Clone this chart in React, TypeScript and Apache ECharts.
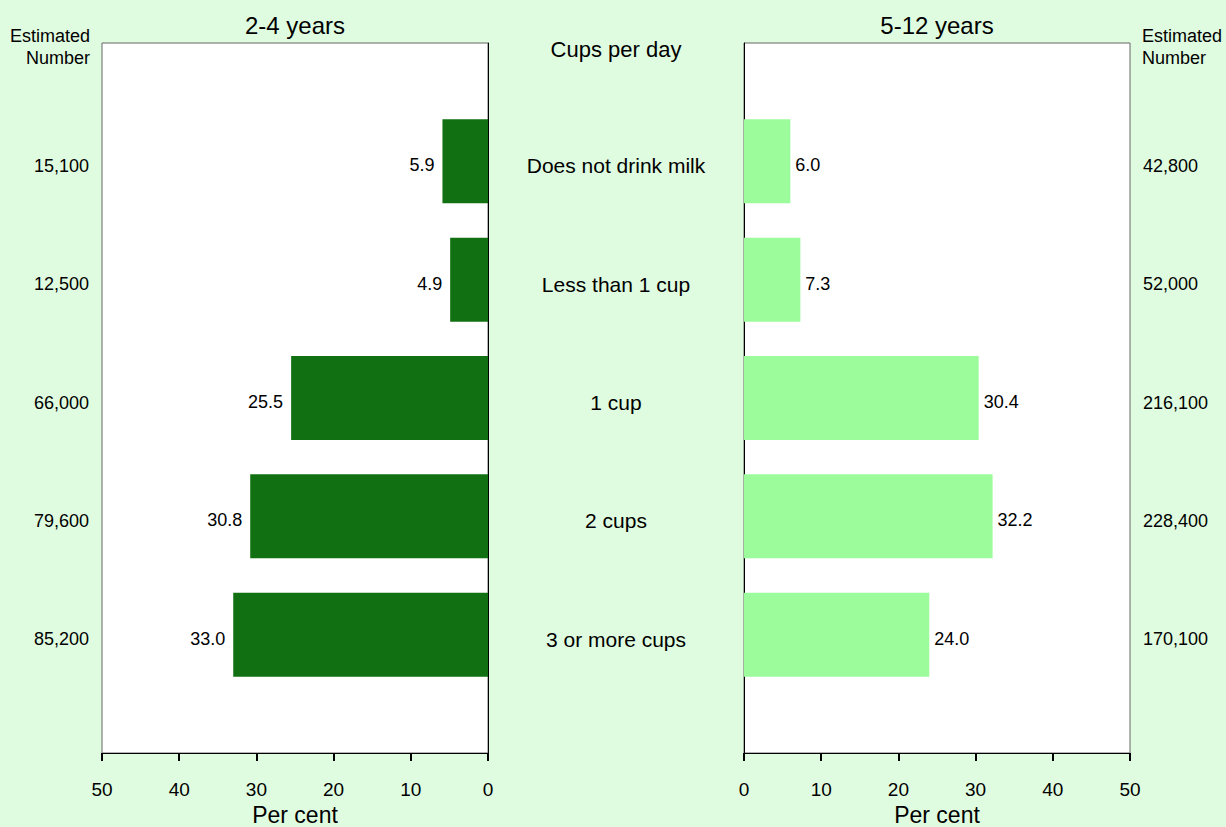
import React, { useEffect, useRef } from "react";
import * as echarts from "echarts";

const categories = ["Does not drink milk", "Less than 1 cup", "1 cup", "2 cups", "3 or more cups"];
const young = [5.9, 4.9, 25.5, 30.8, 33.0];
const older = [6.0, 7.3, 30.4, 32.2, 24.0];
const youngNumbers = ["15,100", "12,500", "66,000", "79,600", "85,200"];
const olderNumbers = ["42,800", "52,000", "216,100", "228,400", "170,100"];
const ticks = [0, 10, 20, 30, 40, 50];

const FONT = "Liberation Sans, Arial, sans-serif";

export default function App() {
  const ref = useRef<HTMLDivElement>(null);
  useEffect(() => {
    if (!ref.current) return;
    const chart = echarts.init(ref.current, null, { renderer: "svg" });
    const pad = (arr: any[]) => ["", ...arr, ""];
    const padV = (arr: number[]) => [null, ...arr, null];
    const xCommon = (inverse: boolean, gi: number) => ({
      type: "value",
      gridIndex: gi,
      min: ticks[0],
      max: ticks[ticks.length - 1],
      interval: 10,
      inverse,
      splitLine: { show: false },
      axisLine: { show: true, lineStyle: { color: "#000", width: 1 } },
      axisTick: { show: true, length: 8, lineStyle: { color: "#000", width: 2 } },
      axisLabel: { color: "#000", fontSize: 19, fontFamily: FONT, margin: 27 },
      name: "Per cent",
      nameLocation: "middle",
      nameGap: 50,
      nameTextStyle: { color: "#000", fontSize: 23, fontFamily: FONT, lineHeight: 22 },
    });
    const yCat = (gi: number, data: string[], position: string, extra: any) => ({
      type: "category",
      gridIndex: gi,
      data,
      boundaryGap: false,
      inverse: true,
      position,
      axisTick: { show: false },
      splitLine: { show: false },
      ...extra,
    });
    const fmt = (p: any) => (p.value == null ? "" : Number(p.value).toFixed(1));
    const gridBase = { top: 43, bottom: 74, show: true, backgroundColor: "#fff", borderColor: "#666", borderWidth: 1, containLabel: false, outerBoundsMode: "none" };
    chart.setOption({
      animation: false,
      backgroundColor: "#e0fce0",
      textStyle: { fontFamily: FONT },
      grid: [
        { ...gridBase, left: 102, right: 738 },
        { ...gridBase, left: 744, right: 96 },
      ],
      xAxis: [xCommon(true, 0), xCommon(false, 1)],
      yAxis: [
        yCat(0, pad(categories), "right", {
          axisLine: { show: true, lineStyle: { color: "#000" } },
          axisLabel: { color: "#000", fontSize: 21, fontFamily: FONT, align: "center", verticalAlign: "top", lineHeight: 9, margin: 128 },
        }),
        yCat(0, pad(youngNumbers), "left", {
          axisLine: { show: false },
          axisLabel: { color: "#000", fontSize: 18, fontFamily: FONT, align: "right", verticalAlign: "top", lineHeight: 9, margin: 13 },
        }),
        yCat(1, pad(categories), "left", {
          axisLine: { show: true, lineStyle: { color: "#000" } },
          axisLabel: { show: false },
        }),
        yCat(1, pad(olderNumbers), "right", {
          axisLine: { show: false },
          axisLabel: { color: "#000", fontSize: 18, fontFamily: FONT, align: "left", verticalAlign: "top", lineHeight: 9, margin: 13 },
        }),
      ],
      series: [
        {
          type: "bar",
          xAxisIndex: 0,
          yAxisIndex: 0,
          data: padV(young),
          barWidth: 84,
          itemStyle: { color: "#117011" },
          label: { show: true, position: "left", distance: 8, offset: [0, 4], color: "#000", fontSize: 18, fontFamily: FONT, formatter: fmt },
        },
        {
          type: "bar",
          xAxisIndex: 1,
          yAxisIndex: 2,
          data: padV(older),
          barWidth: 84,
          itemStyle: { color: "#9cfc9c" },
          label: { show: true, position: "right", distance: 5, offset: [0, 4], color: "#000", fontSize: 18, fontFamily: FONT, formatter: fmt },
        },
      ],
      graphic: [
        { type: "text", x: 295, y: 25, style: { text: "2-4 years", fontSize: 24, fontFamily: FONT, fill: "#000", align: "center", verticalAlign: "middle" } },
        { type: "text", x: 937, y: 25, style: { text: "5-12 years", fontSize: 24, fontFamily: FONT, fill: "#000", align: "center", verticalAlign: "middle" } },
        { type: "text", x: 616, y: 49, style: { text: "Cups per day", fontSize: 22, fontFamily: FONT, fill: "#000", align: "center", verticalAlign: "middle" } },
        { type: "text", x: 90, y: 47, style: { text: "Estimated\nNumber", fontSize: 18, lineHeight: 22, fontFamily: FONT, fill: "#000", align: "right", verticalAlign: "middle" } },
        { type: "text", x: 1142, y: 47, style: { text: "Estimated\nNumber", fontSize: 18, lineHeight: 22, fontFamily: FONT, fill: "#000", align: "left", verticalAlign: "middle" } },
      ],
    });
    return () => chart.dispose();
  }, []);
  return <div ref={ref} style={{ position: "fixed", left: 0, top: 0, width: 1226, height: 827 }} />;
}
